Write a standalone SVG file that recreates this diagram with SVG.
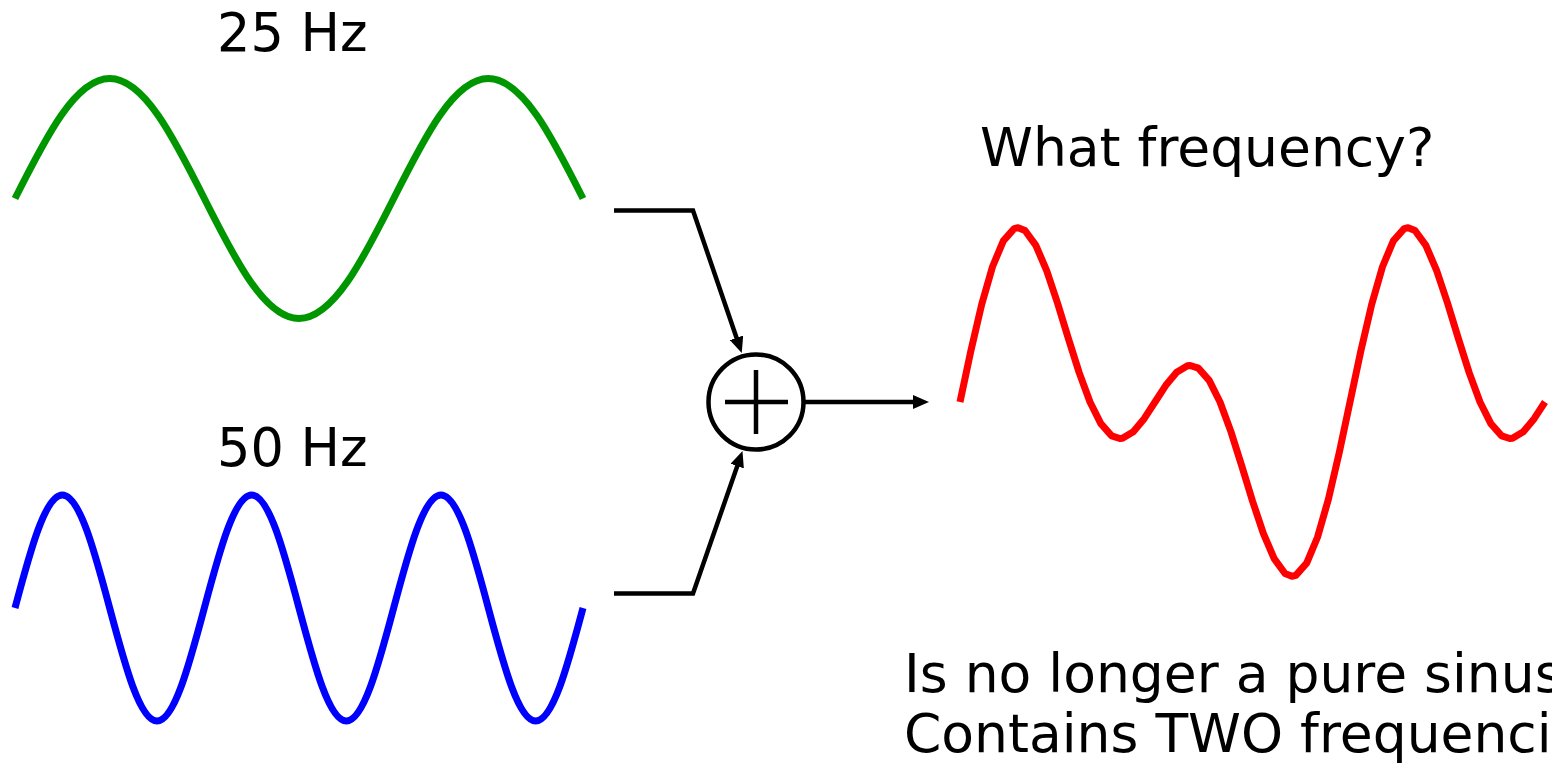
<svg xmlns="http://www.w3.org/2000/svg" width="1552" height="763" viewBox="0 0 1552 763">
<style>
.lbl{font-family:"DejaVu Sans","Liberation Sans",sans-serif;font-size:53.5px;fill:#000}
.hz{font-size:52.5px}
.wave{fill:none;stroke-width:7;stroke-linejoin:round;stroke-linecap:butt}
.conn{fill:none;stroke:#000;stroke-width:4.5;stroke-linejoin:miter}
</style>
<defs>
<marker id="arr" markerUnits="userSpaceOnUse" viewBox="0 0 16 14" markerWidth="16" markerHeight="14" refX="6" refY="7" orient="auto">
<path d="M0,0 L16,7 L0,14 z" fill="#000"/>
</marker>
</defs>
<rect width="1552" height="763" fill="#fff"/>
<g id="label-25hz"><text class="lbl hz" x="217" y="51">25 Hz</text></g>
<g id="label-50hz"><text class="lbl hz" x="217" y="466">50 Hz</text></g>
<g id="label-question"><text class="lbl" x="980" y="166">What frequency?</text></g>
<g id="label-note">
<text class="lbl" x="904" y="692">Is no longer a pure sinusoid</text>
<text class="lbl" x="904" y="752">Contains TWO frequencies</text>
</g>
<g id="wave-25hz">
<path class="wave" stroke="#009600" d="M15,198.5 C45.87,137.02 75.56,78.5 109.67,78.5 C143.78,78.5 173.47,137.02 204.33,198.5 C235.2,259.98 264.89,318.5 299,318.5 C333.11,318.5 362.8,259.98 393.67,198.5 C424.54,137.02 454.23,78.5 488.33,78.5 C522.44,78.5 552.13,137.02 583,198.5"/>
</g>
<g id="wave-50hz">
<path class="wave" stroke="#0000ff" d="M15,608 C30.44,550.11 45.28,495 62.33,495 C79.38,495 94.23,550.11 109.67,608 C125.11,665.89 139.95,721 157,721 C174.05,721 188.9,665.89 204.33,608 C219.77,550.11 234.61,495 251.67,495 C268.72,495 283.57,550.11 299,608 C314.44,665.89 329.28,721 346.33,721 C363.38,721 378.23,665.89 393.67,608 C409.11,550.11 423.95,495 441,495 C458.05,495 472.9,550.11 488.33,608 C503.77,665.89 518.61,721 535.67,721 C552.72,721 567.57,665.89 583,608"/>
</g>
<g id="wave-sum">
<polyline class="wave" stroke="#ff0000" points="960,402 970.83,350.96 981.67,304.5 992.5,266.77 1003.33,240.87 1014.17,228.67 1018.07,227.76 1025,230.52 1035.83,245.33 1046.67,270.65 1057.5,303 1068.33,338.36 1079.17,372.61 1090,402 1100.83,423.66 1111.67,435.86 1119.8,438.5 1122.5,438.23 1133.33,431.78 1144.17,418.67 1155,402 1165.83,385.33 1176.67,372.22 1187.5,365.77 1190.2,365.5 1198.33,368.14 1209.17,380.34 1220,402 1230.83,431.39 1241.67,465.64 1252.5,501 1263.33,533.35 1274.17,558.67 1285,573.48 1291.93,576.24 1295.83,575.33 1306.67,563.13 1317.5,537.23 1328.33,499.5 1339.17,453.04 1350,402 1360.83,350.96 1371.67,304.5 1382.5,266.77 1393.33,240.87 1404.17,228.67 1408.07,227.76 1415,230.52 1425.83,245.33 1436.67,270.65 1447.5,303 1458.33,338.36 1469.17,372.61 1480,402 1490.83,423.66 1501.67,435.86 1509.8,438.5 1512.5,438.23 1523.33,431.78 1534.17,418.67 1545,402"/>
</g>
<g id="sum-node">
<circle cx="756" cy="402" r="47.5" fill="none" stroke="#000" stroke-width="4.5"/>
<line x1="725" y1="402" x2="788" y2="402" stroke="#000" stroke-width="4.5"/>
<line x1="756" y1="370" x2="756" y2="434" stroke="#000" stroke-width="4.5"/>
</g>
<g id="connectors">
<polyline class="conn" points="614,210.5 693,210.5 738.5,343.5" marker-end="url(#arr)"/>
<polyline class="conn" points="614,593.5 693,593.5 739.2,460.4" marker-end="url(#arr)"/>
<line class="conn" x1="805" y1="402" x2="919" y2="402" marker-end="url(#arr)"/>
</g>
</svg>
